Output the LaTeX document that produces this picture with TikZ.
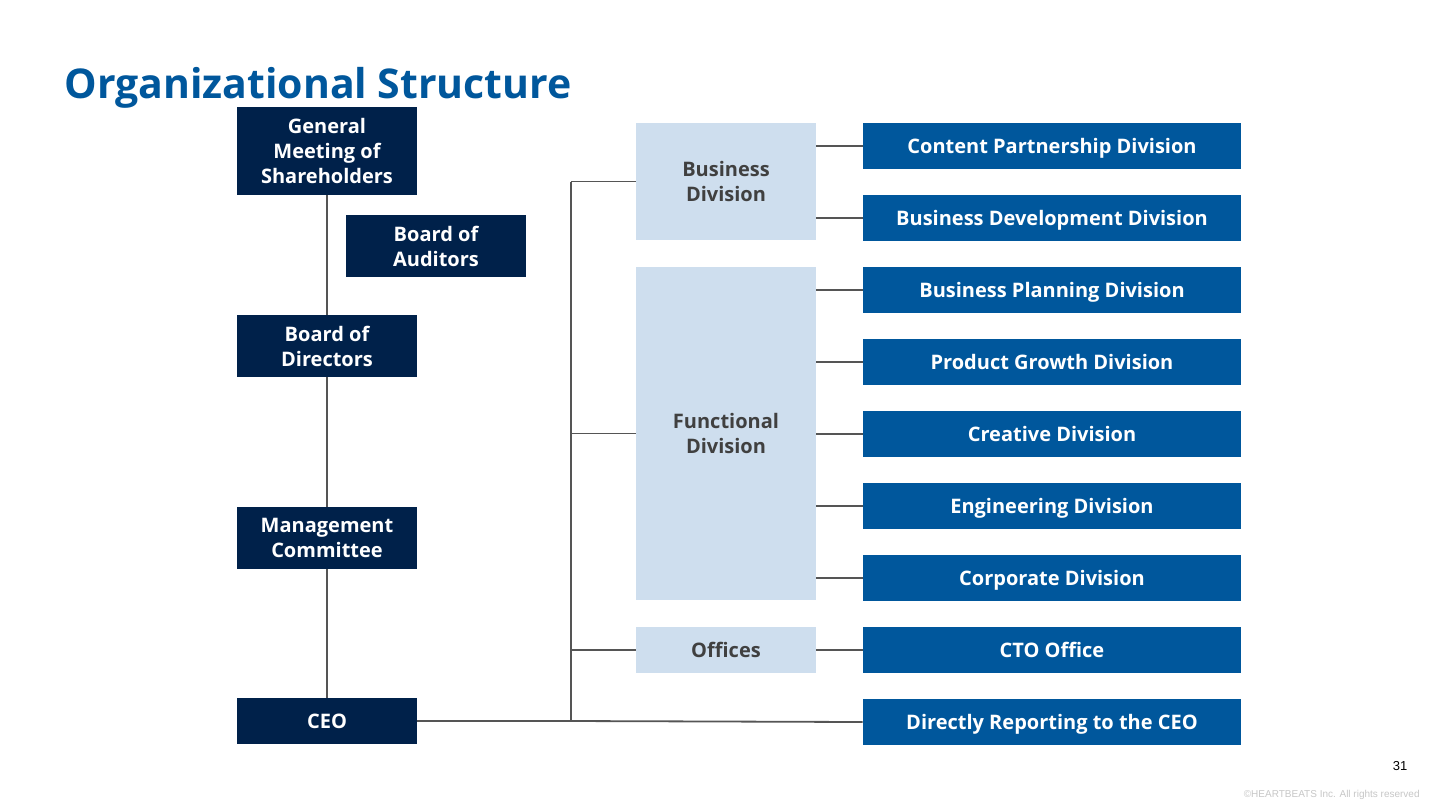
\documentclass[tikz,border=0pt]{standalone}
\usepackage{fontspec}
\setmainfont{Open Sans}
\newfontfamily\smallsans{Liberation Sans}
\definecolor{navy}{HTML}{00214A}
\definecolor{mblue}{HTML}{00579C}
\definecolor{lblue}{HTML}{CEDEEE}
\definecolor{ttl}{HTML}{00579C}
\definecolor{linec}{HTML}{555555}
\definecolor{txtgray}{HTML}{404040}
\begin{document}
\begin{tikzpicture}[x=0.5pt,y=-0.5pt,
  box/.style={draw=none,inner sep=0pt,align=center,font=\bfseries\fontsize{10pt}{12.5pt}\selectfont},
  darkbox/.style={box,fill=navy,text=white,minimum width=90pt},
  bluebox/.style={box,fill=mblue,text=white,minimum width=189pt,minimum height=23pt,text height=7.3pt,text depth=0pt},
  lightbox/.style={box,fill=lblue,text=txtgray,minimum width=90pt},
  conn/.style={draw=linec,line width=0.9pt}]
\useasboundingbox (0,0) rectangle (1440,810);
\fill[white] (0,0) rectangle (1440,810);
\node[anchor=base west,text=ttl,font=\bfseries\fontsize{20.5pt}{25pt}\selectfont,inner sep=0pt] (title) at (64,98) {Organizational Structure};
% left column
\node[darkbox,minimum height=44pt] (gms) at (327,151) {General\\Meeting of\\Shareholders};
\node[darkbox,minimum height=31pt] (aud) at (436,246) {Board of\\Auditors};
\node[darkbox,minimum height=31pt] (bod) at (327,346) {Board of\\Directors};
\node[darkbox,minimum height=31pt] (mgmt) at (327,538) {Management\\Committee};
\node[darkbox,minimum height=23pt] (ceo) at (327,721) {CEO};
\draw[conn] (gms.south) -- (bod.north);
\draw[conn] (bod.south) -- (mgmt.north);
\draw[conn] (mgmt.south) -- (ceo.north);
% middle column
\node[lightbox,minimum height=58.5pt] (bus) at (726,181.5) {Business\\Division};
\node[lightbox,minimum height=166.5pt] (func) at (726,433.5) {Functional\\Division};
\node[lightbox,minimum height=23pt] (off) at (726,650) {Offices};
% right column
\node[bluebox] (cp) at (1052,146) {Content Partnership Division};
\node[bluebox] (bd) at (1052,218) {Business Development Division};
\node[bluebox] (bp) at (1052,290) {Business Planning Division};
\node[bluebox] (pg) at (1052,362) {Product Growth Division};
\node[bluebox] (cr) at (1052,434) {Creative Division};
\node[bluebox] (en) at (1052,506) {Engineering Division};
\node[bluebox] (co) at (1052,578) {Corporate Division};
\node[bluebox] (cto) at (1052,650) {CTO Office};
\node[bluebox] (dr) at (1052,722) {Directly Reporting to the CEO};
% bus
\coordinate (bt) at (571,181.5);
\coordinate (bb) at (571,721);
\draw[conn] (ceo.east) -- (bb);
\draw[conn] (bb) -- (bt);
\draw[conn] (bt) -- (bus.west);
\draw[conn] (571,433.5) -- (func.west);
\draw[conn] (571,650) -- (off.west);
\draw[conn] (bb) -- (dr.west);
% branches
\foreach \n in {cp,bd} \draw[conn] (bus.east |- \n.west) -- (\n.west);
\foreach \n in {bp,pg,cr,en,co} \draw[conn] (func.east |- \n.west) -- (\n.west);
\draw[conn] (off.east) -- (cto.west);
% footer
\node[font=\smallsans\fontsize{6.5pt}{7pt}\selectfont,text=black,inner sep=0pt] (pn) at (1400,766) {31};
\node[font=\smallsans\fontsize{5pt}{6pt}\selectfont,text=black!22,inner sep=0pt,anchor=east] (cpy) at (1420,795) {©HEARTBEATS Inc. All rights reserved};
\end{tikzpicture}
\end{document}
